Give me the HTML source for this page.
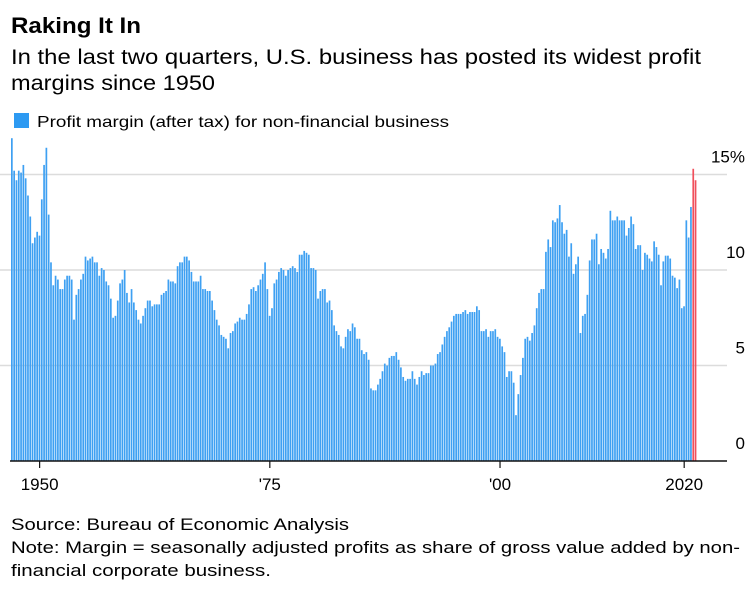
<!DOCTYPE html>
<html><head><meta charset="utf-8"><style>
body{margin:0;background:#fff;width:756px;height:593px;overflow:hidden;font-family:"Liberation Sans",sans-serif;color:#000}
svg{position:absolute;left:0;top:0}
</style></head><body>
<svg width="756" height="593">
<text x="11" y="33" font-size="22" font-weight="bold" textLength="130" lengthAdjust="spacingAndGlyphs">Raking It In</text>
<text x="11" y="64" font-size="21" textLength="690" lengthAdjust="spacingAndGlyphs">In the last two quarters, U.S. business has posted its widest profit</text>
<text x="11" y="90" font-size="21" textLength="204" lengthAdjust="spacingAndGlyphs">margins since 1950</text>
<rect x="14" y="113" width="15" height="15" fill="#2d9af2"/>
<text x="37" y="127" font-size="16" textLength="412" lengthAdjust="spacingAndGlyphs">Profit margin (after tax) for non-financial business</text>
<g id="grid"></g>
<g id="bars"></g>
<g id="axis"></g>
<text x="11" y="530" font-size="17" textLength="338" lengthAdjust="spacingAndGlyphs">Source: Bureau of Economic Analysis</text>
<text x="11" y="553" font-size="17" textLength="729" lengthAdjust="spacingAndGlyphs">Note: Margin = seasonally adjusted profits as share of gross value added by non-</text>
<text x="11" y="576" font-size="17" textLength="260" lengthAdjust="spacingAndGlyphs">financial corporate business.</text>
</svg>
<script>
const startYear = 1947;
const values = [
16.9,15.2,14.7,15.2, 15.1,15.5,14.8,13.9, 12.8,11.4,11.7,12.0, 11.8,13.7,15.5,16.4,
12.9,10.4,9.2,9.7, 9.5,9.0,9.0,9.5, 9.7,9.7,9.5,7.4, 8.7,9.0,9.5,9.8,
10.7,10.5,10.6,10.7, 10.4,10.4,9.7,10.1, 10.0,9.4,9.2,8.5, 7.5,7.6,8.4,9.3,
9.5,10.0,8.8,8.3, 9.0,8.3,7.9,7.4, 7.2,7.6,8.0,8.4, 8.4,8.1,8.2,8.2,
8.2,8.7,8.8,8.9, 9.5,9.4,9.4,9.3, 10.2,10.4,10.4,10.7, 10.7,10.5,9.9,9.4,
9.4,9.4,9.7,9.0, 9.0,8.9,8.9,8.4, 7.9,7.4,7.1,6.6, 6.5,6.4,5.9,6.7,
6.8,7.2,7.3,7.5,
7.4,7.4,7.7,8.2, 9.0,9.1,8.9,9.2, 9.5,9.8,10.4,9.0, 7.6,8.0,9.3,9.5,
9.9,10.1,10.0,9.7, 10.0,10.1,10.2,10.1, 9.9,10.8,10.8,11.0, 10.9,10.8,10.1,10.1,
10.0,8.5,8.9,9.0, 9.0,8.3,8.4,7.9, 7.1,6.8,6.6,6.0, 5.9,6.5,6.9,6.8,
7.2,7.0,6.4,6.4, 5.8,5.6,5.7,5.3, 3.8,3.7,3.7,4.0, 4.3,4.7,5.1,5.0,
5.4,5.5,5.5,5.7, 5.3,4.9,4.4,4.2, 4.3,4.3,4.7,4.3, 4.0,4.4,4.7,4.5,
4.6,4.6,5.0,5.0, 5.1,5.6,5.7,6.1, 6.5,6.8,7.0,7.3, 7.6,7.7,7.7,7.7,
7.8,7.9,7.7,7.8, 7.8,7.8,8.1,7.9, 6.8,6.8,6.9,6.5,
6.8,6.8,6.9,6.5, 6.4,6.0,5.7,4.4, 4.7,4.7,4.1,2.4, 3.5,4.5,5.4,6.4,
6.5,6.3,6.7,7.1, 8.0,8.8,9.0,9.0, 10.95,11.6,11.2,12.6, 12.5,12.7,13.4,12.5,
11.9,12.1,10.7,11.4, 9.8,10.3,10.7,6.7, 7.6,7.7,8.7,10.5, 11.6,11.6,11.9,10.3,
11.1,10.9,10.6,11.1, 13.1,12.6,12.6,12.8, 12.6,12.6,12.6,11.8, 12.2,12.8,12.4,11.1,
11.3,11.3,10.0,10.9, 10.8,10.6,10.45,11.5, 11.2,10.8,9.2,10.45, 10.75,10.75,10.6,9.7,
9.6,9.05,9.5,8.0, 8.1,12.6,11.7,13.3, 15.3,14.7
];
const yTicks = [0,5,10,15];
const yTickLabels = ["0","5","10","15%"];
const xTickYears = [1950,1975,2000,2020];
const xTickLabels = ["1950","'75","'00","2020"];
const highlightCount = 2;

const NS="http://www.w3.org/2000/svg";
const x0=11, x1=697, yBase=461, pxPer=19.1;
const step=(x1-x0)/values.length;
const yScale=v=>yBase-v*pxPer;
const xScale=i=>x0+i*step;
const xYear=y=>x0+(y-startYear)*4*step;
function mk(tag,attrs,parent){const e=document.createElementNS(NS,tag);for(const k in attrs)e.setAttribute(k,attrs[k]);parent.appendChild(e);return e;}
const grid=document.getElementById('grid'),bars=document.getElementById('bars'),axis=document.getElementById('axis');
yTicks.forEach((t,i)=>{
  if(t>0){const l=mk('line',{x1:0,x2:727,y1:yScale(t),y2:yScale(t),stroke:'#dcdcdc','stroke-width':1.5},grid);
  
  }
  const tx=mk('text',{x:745,y:yScale(t)-12,'font-size':17,'text-anchor':'end'},grid);
  tx.textContent=yTickLabels[i];
  
  
});
values.forEach((v,i)=>{
  const red=i>=values.length-highlightCount;
  const r=mk('rect',{x:xScale(i),y:yScale(v),width:step-0.6,height:v*pxPer,fill:red?'#f0505c':'#3ea0f2'},bars);
  
  
});
const ax=mk('line',{x1:10,x2:727,y1:yBase,y2:yBase,stroke:'#111','stroke-width':1.5},axis);


xTickYears.forEach((y,i)=>{
  const x=xYear(y)+1;
  const t=mk('line',{x1:x,x2:x,y1:yBase,y2:yBase+7,stroke:'#111','stroke-width':1.2},axis);
  
  
  const tx=mk('text',{x:x,y:yBase+29,'font-size':17,'text-anchor':'middle'},axis);
  tx.textContent=xTickLabels[i];
  
  
});
</script>
</body></html>
